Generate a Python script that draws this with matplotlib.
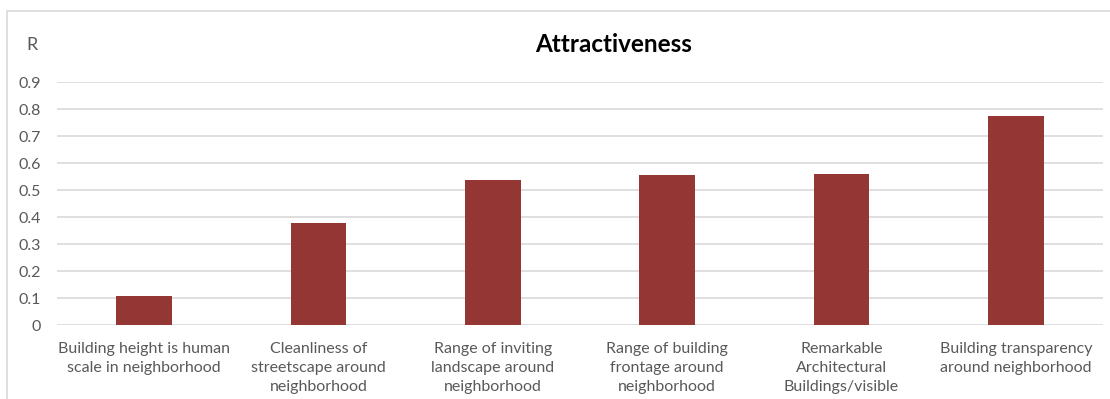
import matplotlib.pyplot as plt
from matplotlib.patches import Rectangle

categories = [
    'Building height is human\nscale in neighborhood',
    'Cleanliness of\nstreetscape around\nneighborhood',
    'Range of inviting\nlandscape around\nneighborhood',
    'Range of building\nfrontage around\nneighborhood',
    'Remarkable\nArchitectural\nBuildings/visible',
    'Building transparency\naround neighborhood',
]
r_values = [0.11, 0.38, 0.54, 0.555, 0.56, 0.775]
y_ticks = [0, 0.1, 0.2, 0.3, 0.4, 0.5, 0.6, 0.7, 0.8, 0.9]
y_tick_labels = ['0', '0.1', '0.2', '0.3', '0.4', '0.5', '0.6', '0.7', '0.8', '0.9']

plt.rcParams['font.family'] = ['Lato', 'DejaVu Sans']
text_grey = '#595959'

fig = plt.figure(figsize=(11.1, 3.99), dpi=100)
ax = fig.add_axes([57 / 1110, 73.7 / 399, 1046 / 1110, 243 / 399])

x = range(len(categories))
ax.bar(x, r_values, width=0.32, color='#943634', zorder=3)

ax.set_xlim(-0.5, len(categories) - 0.5)
ax.set_ylim(0, 0.9)
ax.set_yticks(y_ticks)
ax.set_yticklabels(y_tick_labels, color=text_grey, fontsize=11.5)
ax.set_xticks(list(x))
ax.set_xticklabels(categories, color=text_grey, fontsize=11.5, linespacing=1.45, va='top')
ax.tick_params(axis='both', length=0)
ax.tick_params(axis='y', pad=11.5)
ax.tick_params(axis='x', pad=12)
ax.grid(axis='y', color='#d9d9d9', linewidth=1.2, zorder=0)
for s in ax.spines.values():
    s.set_visible(False)

fig.text(614 / 1110, 1 - 44 / 399, 'Attractiveness', ha='center', va='center',
         fontsize=17.5, fontweight='bold', color='black')
fig.text(32 / 1110, 1 - 45 / 399, 'R', ha='center', va='center',
         fontsize=13, color=text_grey)

# outer chart border
fig.patches.append(Rectangle((7 / 1110, -0.1), 1.2, 1 - 11 / 399 + 0.1,
                             transform=fig.transFigure, fill=False,
                             edgecolor='#d9d9d9', linewidth=1.2))

fig.savefig('out.png', dpi=100)
